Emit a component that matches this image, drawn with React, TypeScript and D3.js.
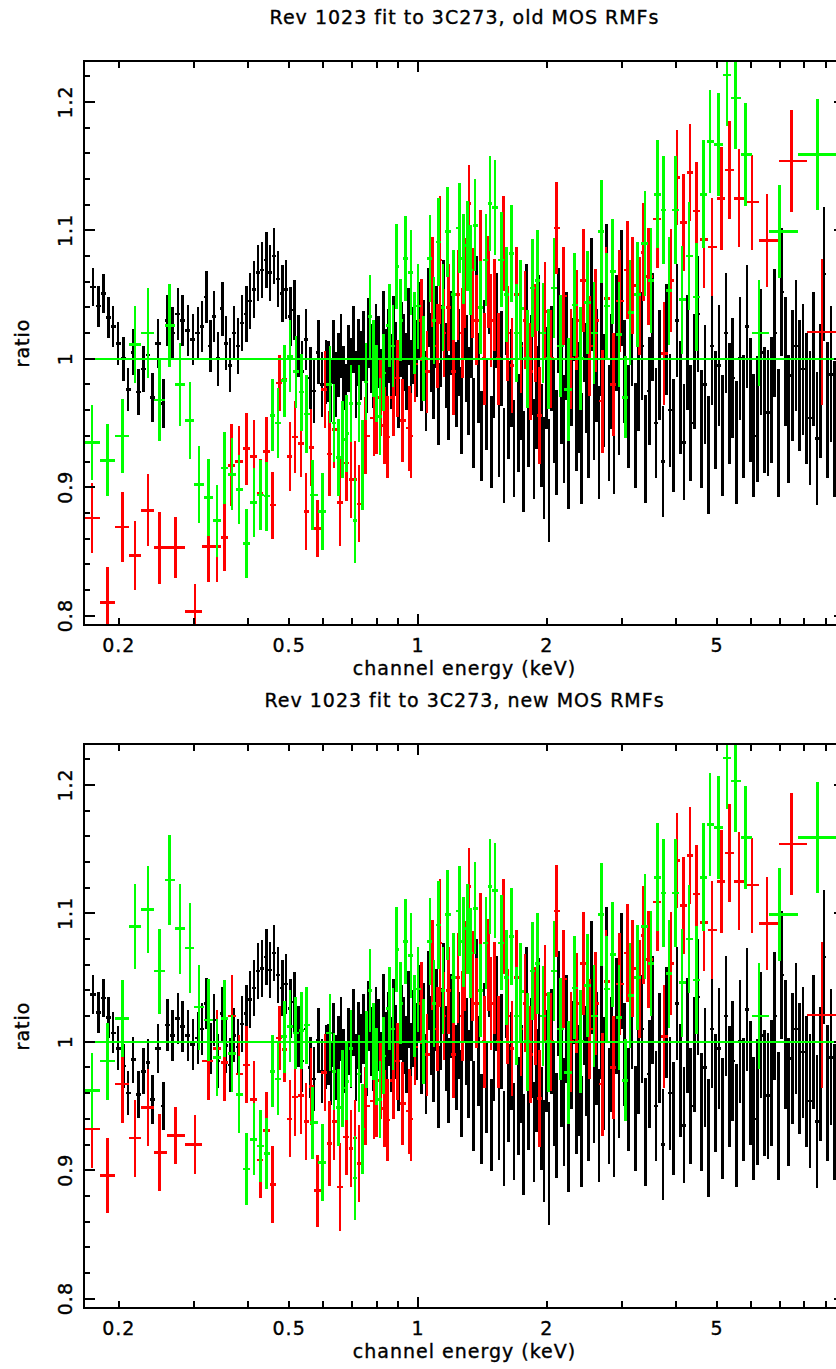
import React from 'react';
import * as d3 from 'd3';

// [channel energy keV, ratio, 1-sigma error]
type Pt = [number, number, number];

// black data, below 0.62 keV (differs a little between the two fits)
const blackLowOld: Pt[] = [
  [0.174, 1.056, 0.015], [0.179, 1.041, 0.016], [0.184, 1.051, 0.015], [0.189, 1.032, 0.016], [0.194, 1.025, 0.016],
  [0.199, 1.012, 0.017], [0.205, 1.0, 0.017], [0.21, 0.976, 0.017], [0.216, 1.005, 0.018], [0.222, 0.974, 0.018],
  [0.228, 0.992, 0.018], [0.234, 1.003, 0.018], [0.24, 0.97, 0.019], [0.247, 1.012, 0.019], [0.254, 0.965, 0.019],
  [0.26, 1.03, 0.02], [0.267, 1.02, 0.02], [0.275, 1.035, 0.02], [0.282, 1.03, 0.02], [0.29, 1.022, 0.02],
  [0.298, 1.015, 0.02], [0.306, 1.02, 0.02], [0.313, 1.025, 0.02], [0.32, 1.048, 0.02], [0.327, 1.01, 0.02],
  [0.334, 1.033, 0.02], [0.341, 1.0, 0.021], [0.349, 1.039, 0.021], [0.356, 1.012, 0.021], [0.364, 0.995, 0.021],
  [0.372, 1.02, 0.021], [0.38, 1.01, 0.022], [0.388, 1.028, 0.022], [0.397, 1.035, 0.022], [0.405, 1.045, 0.022],
  [0.414, 1.054, 0.022], [0.423, 1.067, 0.022], [0.432, 1.069, 0.022], [0.442, 1.077, 0.022], [0.451, 1.067, 0.022],
  [0.461, 1.08, 0.022], [0.471, 1.062, 0.022], [0.482, 1.051, 0.022], [0.492, 1.054, 0.023], [0.503, 1.033, 0.023],
  [0.514, 1.038, 0.023], [0.525, 1.01, 0.024], [0.536, 0.99, 0.024], [0.548, 1.015, 0.024], [0.56, 0.985, 0.024],
  [0.572, 0.975, 0.025], [0.585, 1.005, 0.025], [0.597, 0.98, 0.025], [0.61, 0.99, 0.025],
];

const blackLowNew: Pt[] = [
  [0.174, 1.037, 0.015], [0.179, 1.023, 0.016], [0.184, 1.034, 0.015], [0.189, 1.019, 0.016], [0.194, 1.007, 0.016],
  [0.199, 0.995, 0.017], [0.205, 0.981, 0.017], [0.21, 0.96, 0.017], [0.216, 0.986, 0.018], [0.222, 0.959, 0.018],
  [0.228, 0.977, 0.018], [0.234, 0.984, 0.018], [0.24, 0.955, 0.019], [0.247, 0.995, 0.019], [0.254, 0.95, 0.019],
  [0.26, 1.013, 0.02], [0.267, 1.005, 0.02], [0.275, 1.018, 0.02], [0.282, 1.012, 0.02], [0.29, 1.005, 0.02],
  [0.298, 0.998, 0.02], [0.306, 1.003, 0.02], [0.313, 1.01, 0.02], [0.32, 1.03, 0.02], [0.327, 0.995, 0.02],
  [0.334, 1.017, 0.02], [0.341, 0.985, 0.021], [0.349, 1.022, 0.021], [0.356, 0.997, 0.021], [0.364, 0.982, 0.021],
  [0.372, 1.005, 0.021], [0.38, 0.996, 0.022], [0.388, 1.014, 0.022], [0.397, 1.022, 0.022], [0.405, 1.033, 0.022],
  [0.414, 1.042, 0.022], [0.423, 1.055, 0.022], [0.432, 1.057, 0.022], [0.442, 1.066, 0.022], [0.451, 1.056, 0.022],
  [0.461, 1.069, 0.022], [0.471, 1.052, 0.022], [0.482, 1.042, 0.022], [0.492, 1.045, 0.023], [0.503, 1.026, 0.023],
  [0.514, 1.031, 0.023], [0.525, 1.004, 0.024], [0.536, 0.985, 0.024], [0.548, 1.01, 0.024], [0.56, 0.98, 0.024],
  [0.572, 0.971, 0.025], [0.585, 1.001, 0.025], [0.597, 0.977, 0.025], [0.61, 0.988, 0.025],
];

// black data above 0.62 keV (same in both fits)
const blackHigh: Pt[] = [
  [0.618, 0.99, 0.024], [0.626, 0.975, 0.024], [0.635, 1.005, 0.025], [0.644, 0.98, 0.025], [0.652, 0.995, 0.025],
  [0.661, 1.01, 0.025], [0.67, 0.985, 0.025], [0.679, 0.97, 0.026], [0.688, 1.0, 0.026], [0.698, 0.99, 0.026],
  [0.707, 1.015, 0.026], [0.717, 0.98, 0.026], [0.727, 1.005, 0.026], [0.736, 0.995, 0.027], [0.746, 1.01, 0.027],
  [0.757, 0.985, 0.027], [0.767, 1.02, 0.027], [0.777, 1.0, 0.027], [0.788, 0.99, 0.028], [0.798, 1.015, 0.028],
  [0.809, 1.005, 0.028], [0.82, 0.98, 0.028], [0.831, 1.025, 0.028], [0.843, 0.995, 0.028], [0.854, 1.01, 0.029],
  [0.866, 0.99, 0.029], [0.878, 1.02, 0.029], [0.889, 1.0, 0.029], [0.901, 0.975, 0.029], [0.914, 1.015, 0.029],
  [0.926, 1.005, 0.03], [0.939, 0.99, 0.03], [0.951, 1.025, 0.03], [0.964, 0.985, 0.03], [0.977, 1.01, 0.03],
  [0.991, 1.0, 0.03], [1.004, 1.03, 0.03], [1.018, 0.99, 0.031], [1.031, 1.015, 0.031], [1.045, 0.975, 0.031],
  [1.059, 1.04, 0.031], [1.074, 1.005, 0.031], [1.088, 0.985, 0.032], [1.103, 1.025, 0.032], [1.118, 0.965, 0.032],
  [1.133, 1.01, 0.032], [1.149, 1.045, 0.032], [1.164, 0.995, 0.033], [1.18, 0.97, 0.033], [1.196, 1.02, 0.033],
  [1.212, 1.05, 0.033], [1.229, 0.98, 0.033], [1.245, 1.005, 0.034], [1.262, 0.96, 0.034], [1.279, 1.035, 0.034],
  [1.297, 1.0, 0.034], [1.314, 0.975, 0.034], [1.332, 1.02, 0.035], [1.35, 0.95, 0.035], [1.368, 1.045, 0.035],
  [1.387, 0.985, 0.035], [1.406, 0.94, 0.035], [1.425, 1.01, 0.036], [1.444, 0.965, 0.036], [1.464, 1.055, 0.036],
  [1.484, 0.935, 0.036], [1.504, 0.99, 0.036], [1.524, 1.03, 0.037], [1.545, 0.945, 0.037], [1.566, 1.0, 0.037],
  [1.587, 0.925, 0.037], [1.608, 1.04, 0.037], [1.63, 0.96, 0.038], [1.652, 0.985, 0.038], [1.675, 0.93, 0.038],
  [1.697, 1.02, 0.038], [1.72, 0.95, 0.038], [1.744, 0.975, 0.038], [1.767, 0.92, 0.039], [1.791, 1.035, 0.039],
  [1.815, 0.955, 0.039], [1.84, 0.995, 0.039], [1.865, 0.93, 0.039], [1.89, 0.97, 0.04], [1.916, 1.025, 0.04],
  [1.942, 0.94, 0.04], [1.968, 0.915, 0.04], [1.995, 0.985, 0.04], [2.022, 0.905, 0.048], [2.049, 1.0, 0.041],
  [2.077, 0.96, 0.041], [2.105, 0.935, 0.041], [2.133, 1.03, 0.041], [2.162, 0.975, 0.041], [2.192, 0.945, 0.042],
  [2.221, 1.01, 0.042], [2.251, 0.925, 0.042], [2.282, 0.99, 0.042], [2.313, 1.04, 0.042], [2.344, 0.955, 0.042],
  [2.376, 0.97, 0.043], [2.408, 0.93, 0.043], [2.441, 1.025, 0.043], [2.474, 0.985, 0.043], [2.507, 0.95, 0.043],
  [2.541, 1.05, 0.044], [2.576, 0.965, 0.044], [2.611, 0.995, 0.044], [2.646, 0.935, 0.044], [2.682, 1.015, 0.044],
  [2.718, 0.975, 0.044], [2.755, 1.06, 0.045], [2.792, 0.95, 0.045], [2.83, 0.99, 0.045], [2.868, 0.94, 0.045],
  [2.907, 1.02, 0.045], [2.947, 0.97, 0.045], [2.987, 1.055, 0.045],
  [3.04, 0.99, 0.04], [3.1, 0.955, 0.04], [3.16, 1.02, 0.041], [3.22, 0.94, 0.041], [3.28, 0.985, 0.041],
  [3.34, 1.01, 0.042], [3.4, 0.93, 0.042], [3.47, 0.975, 0.042], [3.53, 1.025, 0.042], [3.6, 0.95, 0.043],
  [3.67, 0.995, 0.043], [3.74, 0.92, 0.043], [3.81, 1.015, 0.043], [3.88, 0.96, 0.044], [3.95, 0.94, 0.044],
  [4.03, 1.03, 0.044], [4.11, 0.97, 0.044], [4.18, 0.935, 0.045], [4.26, 1.005, 0.045], [4.34, 0.95, 0.045],
  [4.43, 0.99, 0.045], [4.51, 1.035, 0.045], [4.6, 0.945, 0.046], [4.68, 0.98, 0.046], [4.77, 0.925, 0.046],
  [4.86, 1.01, 0.046], [4.96, 0.96, 0.046], [5.05, 0.995, 0.047], [5.15, 0.94, 0.047], [5.24, 1.02, 0.047],
  [5.34, 0.965, 0.047], [5.44, 0.985, 0.047], [5.55, 0.935, 0.048], [5.65, 1.0, 0.048], [5.76, 0.955, 0.048],
  [5.87, 1.025, 0.048], [5.98, 0.968, 0.048], [6.09, 0.94, 0.048], [6.21, 0.953, 0.049], [6.33, 1.005, 0.049],
  [6.45, 0.96, 0.049], [6.57, 0.958, 0.049], [6.69, 0.968, 0.049], [6.82, 1.02, 0.05], [6.95, 0.942, 0.05],
  [7.08, 1.052, 0.05], [7.22, 0.998, 0.05], [7.35, 0.953, 0.05], [7.49, 0.987, 0.051], [7.64, 1.01, 0.051],
  [7.78, 0.979, 0.051], [7.93, 0.992, 0.051], [8.08, 0.969, 0.051], [8.24, 0.954, 0.052], [8.39, 1.0, 0.052],
  [8.55, 0.938, 0.052], [8.72, 0.975, 0.052], [8.88, 1.066, 0.052], [9.05, 0.96, 0.053], [9.22, 0.988, 0.053],
  [9.4, 0.945, 0.053], [9.58, 1.0, 0.054],
];

// red data below 0.78 keV
const redLowOld: Pt[] = [
  [0.173, 0.876, 0.027], [0.188, 0.81, 0.028], [0.204, 0.869, 0.027], [0.218, 0.847, 0.027], [0.234, 0.882, 0.028],
  [0.249, 0.853, 0.028], [0.271, 0.853, 0.024], [0.301, 0.803, 0.022], [0.324, 0.854, 0.028], [0.339, 0.854, 0.028],
  [0.353, 0.861, 0.026], [0.367, 0.917, 0.032], [0.382, 0.92, 0.028], [0.398, 0.93, 0.028], [0.414, 0.924, 0.028],
  [0.428, 0.895, 0.027], [0.443, 0.928, 0.027], [0.457, 0.886, 0.026], [0.474, 0.981, 0.022], [0.487, 0.984, 0.022],
  [0.502, 0.924, 0.027], [0.516, 0.939, 0.028], [0.533, 0.934, 0.026], [0.548, 0.881, 0.03], [0.562, 0.931, 0.03],
  [0.583, 0.868, 0.022], [0.606, 0.976, 0.03], [0.622, 0.926, 0.033], [0.637, 0.945, 0.03], [0.657, 0.888, 0.034],
  [0.681, 0.919, 0.03], [0.697, 0.906, 0.03], [0.712, 0.906, 0.03], [0.728, 0.887, 0.03], [0.755, 0.94, 0.03],
];

const redLowNew: Pt[] = [
  [0.173, 0.932, 0.03], [0.188, 0.896, 0.029], [0.204, 0.967, 0.03], [0.218, 0.925, 0.03], [0.234, 0.949, 0.03],
  [0.249, 0.914, 0.03], [0.271, 0.927, 0.022], [0.301, 0.92, 0.023], [0.324, 0.985, 0.03], [0.339, 0.995, 0.03],
  [0.353, 0.984, 0.03], [0.368, 1.02, 0.032], [0.382, 0.975, 0.03], [0.398, 0.982, 0.03], [0.414, 0.955, 0.03],
  [0.428, 0.908, 0.03], [0.443, 0.931, 0.03], [0.457, 0.889, 0.03], [0.474, 1.003, 0.025], [0.487, 0.994, 0.025],
  [0.502, 0.94, 0.03], [0.516, 0.957, 0.03], [0.533, 0.958, 0.03], [0.548, 0.938, 0.03], [0.562, 0.965, 0.03],
  [0.583, 0.884, 0.028], [0.606, 0.976, 0.03], [0.622, 0.921, 0.033], [0.637, 0.938, 0.03], [0.657, 0.887, 0.034],
  [0.681, 0.926, 0.03], [0.697, 0.917, 0.03], [0.712, 0.925, 0.03], [0.728, 0.905, 0.03], [0.755, 0.95, 0.03],
];

// red data above 0.78 keV
const redHigh: Pt[] = [
  [0.789, 0.954, 0.03], [0.8, 0.956, 0.03], [0.817, 0.97, 0.03], [0.834, 0.948, 0.03], [0.848, 0.939, 0.032],
  [0.876, 0.97, 0.03], [0.895, 0.985, 0.03], [0.921, 0.952, 0.032], [0.954, 0.946, 0.033], [0.963, 0.94, 0.033],
  [0.985, 0.996, 0.03], [1.02, 1.03, 0.032], [1.05, 0.99, 0.032], [1.08, 1.06, 0.035], [1.11, 1.01, 0.033],
  [1.126, 1.077, 0.05], [1.15, 1.02, 0.034], [1.18, 1.04, 0.034], [1.21, 0.99, 0.034], [1.24, 1.05, 0.035],
  [1.27, 1.02, 0.035], [1.288, 1.059, 0.035], [1.316, 1.121, 0.03], [1.34, 1.051, 0.035], [1.37, 1.03, 0.035],
  [1.4, 1.08, 0.036], [1.43, 1.0, 0.036], [1.46, 1.06, 0.036], [1.48, 1.03, 0.036], [1.508, 1.042, 0.036],
  [1.54, 1.0, 0.036], [1.583, 1.09, 0.037], [1.62, 1.02, 0.037], [1.66, 0.995, 0.037], [1.7, 1.05, 0.037],
  [1.74, 1.01, 0.037], [1.78, 1.03, 0.038], [1.83, 0.99, 0.038], [1.88, 1.02, 0.038], [1.92, 0.956, 0.038],
  [1.98, 1.037, 0.038], [2.04, 1.0, 0.038], [2.11, 1.102, 0.036], [2.19, 1.049, 0.038], [2.28, 1.0, 0.039],
  [2.35, 1.03, 0.039], [2.44, 1.061, 0.04], [2.52, 1.01, 0.039], [2.6, 1.03, 0.04], [2.7, 0.967, 0.04],
  [2.75, 1.047, 0.04], [2.86, 0.98, 0.04], [2.96, 1.045, 0.04], [3.09, 1.069, 0.038], [3.17, 1.057, 0.038],
  [3.29, 1.041, 0.038], [3.36, 1.083, 0.038], [3.46, 1.064, 0.038], [3.63, 1.109, 0.038], [3.76, 1.004, 0.04],
  [3.9, 1.061, 0.04], [4.03, 1.141, 0.037], [4.17, 1.106, 0.038], [4.32, 1.145, 0.038], [4.48, 1.115, 0.038],
  [4.66, 1.093, 0.038], [4.86, 1.087, 0.038], [5.12, 1.125, 0.04], [5.34, 1.147, 0.038], [5.63, 1.125, 0.038],
  [6.03, 1.122, 0.037], [6.54, 1.092, 0.036], [7.45, 1.154, 0.04], [8.8, 1.021, 0.057],
];

// green data below 0.8 keV
const greenLowOld: Pt[] = [
  [0.173, 0.935, 0.029], [0.188, 0.921, 0.028], [0.204, 0.94, 0.029], [0.218, 1.011, 0.03], [0.234, 1.02, 0.035],
  [0.249, 0.968, 0.032], [0.263, 1.026, 0.032], [0.278, 0.98, 0.032], [0.293, 0.952, 0.03], [0.308, 0.902, 0.03],
  [0.324, 0.892, 0.03], [0.339, 0.874, 0.028], [0.353, 0.915, 0.028], [0.368, 0.91, 0.028], [0.382, 0.898, 0.027],
  [0.398, 0.856, 0.027], [0.414, 0.888, 0.027], [0.429, 0.894, 0.027], [0.443, 0.893, 0.027], [0.457, 0.956, 0.028],
  [0.471, 0.95, 0.027], [0.487, 0.983, 0.028], [0.502, 1.002, 0.028], [0.519, 0.99, 0.028], [0.535, 0.974, 0.03],
  [0.549, 0.957, 0.03], [0.567, 0.894, 0.027], [0.599, 0.881, 0.03], [0.623, 0.98, 0.03], [0.637, 0.95, 0.03],
  [0.652, 0.923, 0.03], [0.667, 0.937, 0.03], [0.681, 0.942, 0.03], [0.697, 0.965, 0.03], [0.713, 0.874, 0.033],
  [0.728, 0.965, 0.03], [0.743, 0.917, 0.035], [0.756, 0.982, 0.03], [0.772, 1.033, 0.032], [0.786, 1.0, 0.03],
];

const greenLowNew: Pt[] = [
  [0.173, 0.962, 0.029], [0.188, 0.985, 0.03], [0.204, 1.018, 0.03], [0.218, 1.09, 0.033], [0.234, 1.103, 0.034],
  [0.249, 1.055, 0.033], [0.263, 1.126, 0.035], [0.278, 1.088, 0.035], [0.293, 1.073, 0.035], [0.308, 1.027, 0.033],
  [0.324, 1.017, 0.032], [0.339, 0.988, 0.03], [0.353, 1.018, 0.03], [0.368, 0.991, 0.03], [0.382, 0.959, 0.03],
  [0.398, 0.901, 0.028], [0.414, 0.924, 0.028], [0.429, 0.919, 0.028], [0.443, 0.913, 0.028], [0.457, 0.977, 0.028],
  [0.471, 0.971, 0.028], [0.487, 1.004, 0.028], [0.502, 1.012, 0.028], [0.518, 1.007, 0.028], [0.535, 1.009, 0.03],
  [0.549, 1.013, 0.03], [0.567, 0.937, 0.028], [0.599, 0.906, 0.03], [0.623, 1.007, 0.03], [0.637, 0.977, 0.03],
  [0.652, 0.949, 0.03], [0.667, 0.964, 0.03], [0.681, 0.969, 0.03], [0.697, 0.995, 0.03], [0.713, 0.894, 0.033],
  [0.728, 0.975, 0.03], [0.743, 0.932, 0.035], [0.759, 0.994, 0.03], [0.772, 1.04, 0.032], [0.786, 1.0, 0.03],
];

// green data above 0.8 keV
const greenHigh: Pt[] = [
  [0.8, 0.981, 0.03], [0.815, 0.955, 0.03], [0.83, 0.989, 0.03], [0.857, 1.026, 0.032], [0.875, 1.01, 0.032],
  [0.892, 1.072, 0.033], [0.91, 1.03, 0.032], [0.936, 1.078, 0.033], [0.963, 1.067, 0.033], [0.98, 1.02, 0.032],
  [1.0, 1.041, 0.033], [1.03, 1.0, 0.033], [1.067, 1.078, 0.034], [1.09, 1.03, 0.034], [1.116, 1.091, 0.034],
  [1.145, 1.04, 0.034], [1.173, 1.099, 0.035], [1.21, 1.05, 0.035], [1.249, 1.102, 0.035], [1.276, 1.078, 0.035],
  [1.304, 1.088, 0.035], [1.328, 1.069, 0.035], [1.359, 1.104, 0.036], [1.4, 1.04, 0.036], [1.442, 1.077, 0.036],
  [1.473, 1.121, 0.037], [1.513, 1.118, 0.037], [1.569, 1.077, 0.037], [1.611, 1.05, 0.037], [1.656, 1.082, 0.038],
  [1.7, 1.02, 0.038], [1.738, 1.039, 0.038], [1.8, 1.0, 0.038], [1.854, 1.055, 0.038], [1.9, 1.061, 0.039],
  [1.96, 1.02, 0.039], [2.02, 1.0, 0.039], [2.08, 1.055, 0.039], [2.15, 1.01, 0.04], [2.25, 0.976, 0.04],
  [2.32, 1.042, 0.04], [2.4, 1.0, 0.04], [2.49, 1.044, 0.04], [2.58, 1.02, 0.04], [2.68, 1.099, 0.04],
  [2.76, 1.041, 0.041], [2.85, 1.068, 0.041], [2.95, 1.019, 0.041], [3.05, 0.97, 0.032], [3.13, 1.036, 0.041],
  [3.26, 1.05, 0.041], [3.39, 1.09, 0.041], [3.5, 1.061, 0.041], [3.63, 1.128, 0.042], [3.75, 1.116, 0.042],
  [3.86, 1.053, 0.042], [4.0, 1.116, 0.042], [4.14, 1.046, 0.042], [4.3, 1.08, 0.042], [4.48, 1.048, 0.042],
  [4.64, 1.128, 0.042], [4.81, 1.169, 0.04], [5.04, 1.167, 0.04], [5.27, 1.221, 0.04], [5.52, 1.203, 0.04],
  [5.83, 1.159, 0.04], [6.27, 1.02, 0.041], [6.99, 1.099, 0.036], [8.58, 1.159, 0.043],
];

const xTickLabels = [0.2, 0.5, 1, 2, 5];
const xMinorTicks = [0.2, 0.3, 0.4, 0.5, 0.6, 0.7, 0.8, 0.9, 2, 3, 4, 5, 6, 7, 8, 9];
const xMajorTicks = [1, 10];
const yTickLabels = [0.8, 0.9, 1, 1.1, 1.2];

const panels = [
  { title: 'Rev 1023 fit to 3C273, old MOS RMFs', top: 61, black: [...blackLowOld, ...blackHigh], red: [...redLowOld, ...redHigh], green: [...greenLowOld, ...greenHigh] },
  { title: 'Rev 1023 fit to 3C273, new MOS RMFs', top: 744, black: [...blackLowNew, ...blackHigh], red: [...redLowNew, ...redHigh], green: [...greenLowNew, ...greenHigh] },
];

const W = 836;
const H = 1369;
const LEFT = 84;
const RIGHT = 845;
const PH = 564;
const FONT = '"DejaVu Sans", sans-serif';
const FS = 19;
const LS = 1;

const x = d3.scaleLog().domain([0.1658, 9.95]).range([LEFT, RIGHT]);
const y = d3.scaleLinear().domain([0.7927, 1.2319]).range([PH, 0]);

// bin edges halfway (in log) between neighbouring channels
function withEdges(pts: Pt[]) {
  const s = [...pts].sort((a, b) => a[0] - b[0]);
  return s.map((p, i) => {
    const prev = s[i - 1];
    const next = s[i + 1];
    const hi = next ? Math.sqrt(p[0] * next[0]) : (p[0] * p[0]) / Math.sqrt(prev[0] * p[0]);
    const lo = prev ? Math.sqrt(prev[0] * p[0]) : (p[0] * p[0]) / hi;
    return { e: p[0], r: p[1], err: p[2], lo, hi };
  });
}

const Series = ({ pts, color }: { pts: Pt[]; color: string }) => (
  <g stroke={color} strokeWidth={2.6} shapeRendering="crispEdges">
    {withEdges(pts).map((d, i) => (
      <g key={i}>
        <line x1={x(d.e)} x2={x(d.e)} y1={y(d.r - d.err)} y2={y(d.r + d.err)} />
        <line x1={x(d.lo)} x2={x(d.hi)} y1={y(d.r)} y2={y(d.r)} />
      </g>
    ))}
  </g>
);

const Panel = ({ p, idx }: { p: (typeof panels)[number]; idx: number }) => {
  const yMinor = d3.range(40, 62).map((k) => k / 50);
  return (
    <g transform={`translate(0,${p.top})`}>
      <defs>
        <clipPath id={`clip${idx}`}>
          <rect x={LEFT} y={0} width={RIGHT - LEFT} height={PH} />
        </clipPath>
      </defs>
      <g clipPath={`url(#clip${idx})`}>
        <Series pts={p.black} color="#000000" />
        <Series pts={p.red} color="#ff0000" />
        <Series pts={p.green} color="#00ff00" />
        <line x1={LEFT} x2={RIGHT} y1={y(1)} y2={y(1)} stroke="#00ff00" strokeWidth={2} shapeRendering="crispEdges" />
      </g>
      <g stroke="#000" strokeWidth={2} shapeRendering="crispEdges">
        <rect x={LEFT} y={0} width={RIGHT - LEFT} height={PH} fill="none" />
        {yMinor.map((v, i) => {
          const major = Math.round(v * 50) % 5 === 0;
          const len = major ? 11 : 6;
          return (
            <g key={i}>
              <line x1={LEFT} x2={LEFT + len} y1={y(v)} y2={y(v)} />
              <line x1={RIGHT - len} x2={RIGHT} y1={y(v)} y2={y(v)} />
            </g>
          );
        })}
        {xMinorTicks.map((v) => (
          <g key={v}>
            <line x1={x(v)} x2={x(v)} y1={PH} y2={PH - 7} />
            <line x1={x(v)} x2={x(v)} y1={0} y2={7} />
          </g>
        ))}
        {xMajorTicks.map((v) => (
          <g key={v}>
            <line x1={x(v)} x2={x(v)} y1={PH} y2={PH - 11} />
            <line x1={x(v)} x2={x(v)} y1={0} y2={11} />
          </g>
        ))}
      </g>
      <g fontSize={FS} fontFamily={FONT} fill="#000" stroke="#000" strokeWidth={0.35} letterSpacing={LS}>
        <text x={(LEFT + RIGHT) / 2} y={-37} textAnchor="middle">
          {p.title}
        </text>
        {xTickLabels.map((v) => (
          <text key={v} x={x(v)} y={PH + 27} textAnchor="middle">
            {String(v)}
          </text>
        ))}
        {yTickLabels.map((v) => (
          <text key={v} transform={`translate(72,${y(v)}) rotate(-90)`} textAnchor="middle">
            {String(v)}
          </text>
        ))}
        <text transform={`translate(29,${PH / 2}) rotate(-90)`} textAnchor="middle">
          ratio
        </text>
        <text x={(LEFT + RIGHT) / 2} y={PH + 50} textAnchor="middle">
          channel energy (keV)
        </text>
      </g>
    </g>
  );
};

export default function App() {
  return (
    <svg
      width={W}
      height={H}
      viewBox={`0 0 ${W} ${H}`}
      style={{ position: 'absolute', left: 0, top: 0, background: '#fff' }}
    >
      <rect width={W} height={H} fill="#fff" />
      {panels.map((p, i) => (
        <Panel key={i} p={p} idx={i} />
      ))}
    </svg>
  );
}
